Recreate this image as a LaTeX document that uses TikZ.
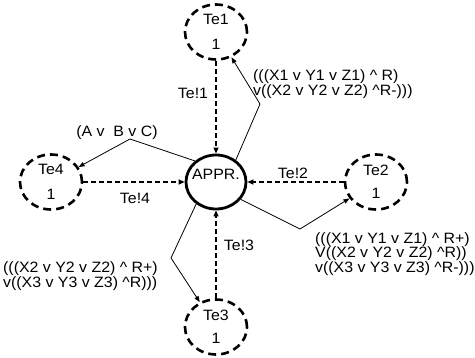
\documentclass[tikz,border=0pt]{standalone}
\usepackage{fontspec}
\setmainfont{Liberation Sans}[FakeStretch=1.06]
\usetikzlibrary{shapes.geometric,arrows.meta}
\begin{document}
\begin{tikzpicture}[x=1pt,y=-1pt,
  every node/.style={font=\fontsize{15}{14.5}\selectfont, inner sep=0pt},
  tebox/.style={ellipse, draw, line width=2.6pt, dash pattern=on 8pt off 5pt,
     minimum width=62pt, minimum height=55pt, align=center},
  apprbox/.style={ellipse, draw, line width=2.8pt, minimum width=60pt, minimum height=54pt},
  dasharrow/.style={line width=1.5pt, dash pattern=on 5pt off 3pt, -{Triangle[length=6pt,width=5pt]}},
  solidarrow/.style={line width=0.8pt, -{Triangle[length=6pt,width=4.5pt]}},
  lbl/.style={align=left}
]
\useasboundingbox (0,0) rectangle (475,358);
\node[apprbox] (appr) at (216,182) {};
\node (apprt) at (216,174) {APPR.};
\node[tebox] (t1) at (216,32) {Te1\\[11pt]1};
\node[tebox] (t2) at (376,182) {Te2\\[8pt]1};
\node[tebox] (t3) at (216,327) {Te3\\[8pt]1};
\node[tebox] (t4) at (51,182) {Te4\\[11pt]1};

\draw[dasharrow] (t1) -- (appr);
\draw[dasharrow] (t2) -- (appr);
\draw[dasharrow] (t3) -- (appr);
\draw[dasharrow] (t4) -- (appr);

\node (l1) at (193,93) {Te!1};
\node (l2) at (293,173) {Te!2};
\node (l3) at (239,245) {Te!3};
\node (l4) at (135,198) {Te!4};

\coordinate (b1) at (260,104);
\coordinate (b2) at (300,229);
\coordinate (b3) at (171,258);
\coordinate (b4) at (130,139);
\draw[solidarrow] (appr.48) -- (b1) -- (t1);
\draw[solidarrow] (appr.-35) -- (b2) -- (t2);
\draw[solidarrow] (appr.-132) -- (b3) -- (t3);
\draw[solidarrow] (appr.135) -- (b4) -- (t4);

\node (c4) at (117,133) {(A v\ \ B v C)};
\node[lbl, anchor=west] (c1) at (253,84) {(((X1 v Y1 v Z1) \textasciicircum{} R)\\v((X2 v Y2 v Z2) \textasciicircum R-)))};
\node[lbl, anchor=west] (c2) at (315,254) {(((X1 v Y1 v Z1) \textasciicircum{} R+)\\V((X2 v Y2 v Z2) \textasciicircum R))\\v((X3 v Y3 v Z3) \textasciicircum R-)))};
\node[lbl, anchor=west] (c3) at (3,276) {(((X2 v Y2 v Z2) \textasciicircum{} R+)\\v((X3 v Y3 v Z3) \textasciicircum R)))};
\end{tikzpicture}
\end{document}
